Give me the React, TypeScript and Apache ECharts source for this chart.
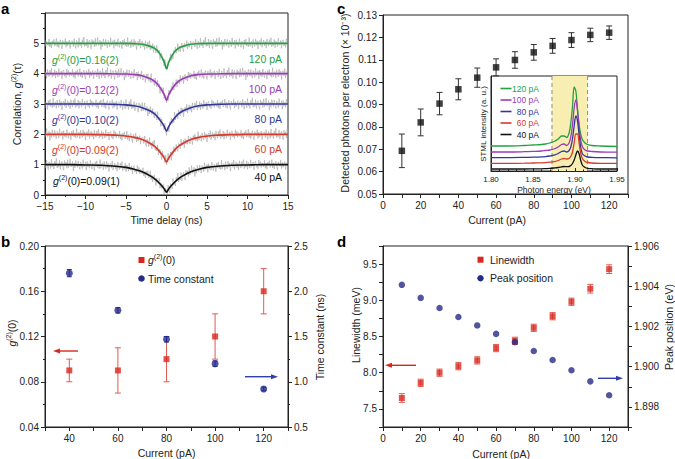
import React, { useEffect, useRef } from 'react';
import * as echarts from 'echarts';

const FONT = '"Liberation Sans", Arial, Helvetica, sans-serif';

// ---------- Panel a: g2(tau) ----------
const fitTimes = [0, 0.25, 0.5, 1, 1.5, 2, 3, 4, 5, 6, 8, 10, 12, 15];
const fit40 = [0.09, 0.19, 0.28, 0.42, 0.54, 0.63, 0.77, 0.85, 0.91, 0.94, 0.98, 0.99, 1.0, 1.0];
const fit60 = [0.09, 0.21, 0.31, 0.48, 0.61, 0.70, 0.83, 0.90, 0.94, 0.97, 0.99, 1.0, 1.0, 1.0];
const fit80 = [0.10, 0.24, 0.36, 0.54, 0.68, 0.77, 0.88, 0.94, 0.97, 0.985, 1.0, 1.0, 1.0, 1.0];
const fit100 = [0.12, 0.29, 0.42, 0.62, 0.75, 0.83, 0.93, 0.97, 0.99, 0.99, 1.0, 1.0, 1.0, 1.0];
const fit120 = [0.16, 0.36, 0.51, 0.72, 0.84, 0.90, 0.97, 0.99, 1.0, 1.0, 1.0, 1.0, 1.0, 1.0];
const fits = [fit40, fit60, fit80, fit100, fit120];
const traceOffsets = [0, 1, 2, 3, 4];
const traceCurrents = ['40 pA', '60 pA', '80 pA', '100 pA', '120 pA'];
const traceG0 = ['0.09(1)', '0.09(2)', '0.10(2)', '0.12(2)', '0.16(2)'];
const traceColors = ['#111111', '#d63a2c', '#33379a', '#9b3cb8', '#24a042'];
const noise = [6, -9, 13, -4, -14, 8, 2, -11, 15, -6, 3, -12, 10, -3, 17, -9, 1, -7, 12, -13, 4, 9, -5, -15, 11, -2, 7, -10, 14, -8, 0, 16, -6, -3, 9, -17, 5, -9, 12, 2, -7, 11, -4, -12, 8, 3, -10, 15, -5, -1, 8, -14, 10, -6, 4, -9, 13, -2, -11, 6, 1, -15, 9, -4, 12, -7, 3, -10, 16, -8, 2, 6, -12, 11, -3, -9, 12, -5, 7, -16, 4, 8, -6, 14, -11, 0, 9, -7, 5, -13, 12, -2, -8, 10, -4, 15, -10, 3, -6, 11, -12, 7, 1, -9, 14, -5, -3, 8, -14, 6, 10, -7, 2, -11, 13, -4, 9, -8, 5, -1, -6, 12, -10, 4, -13, 7, 0, 11, -8, -2, 14, -9, 5, -12, 3, 10, -6, -15, 8, 1, -4, 13, -11, 6, -7, 2, 9, -14, 4, 7];
const grayStep = 0.1;
const noiseScale = 0.012;

// ---------- Panel b ----------
const currentsB = [40, 60, 80, 100, 120];
const g2zero = [0.09, 0.09, 0.10, 0.12, 0.16];
const g2err = [0.01, 0.02, 0.02, 0.02, 0.02];
const timeConst = [2.2, 1.79, 1.47, 1.2, 0.92];
const timeErr = [0.04, 0.03, 0.03, 0.03, 0.02];

// ---------- Panel c ----------
const currentsC = [10, 20, 30, 40, 50, 60, 70, 80, 90, 100, 110, 120];
const photons = [0.0693, 0.082, 0.0904, 0.0968, 0.102, 0.1066, 0.1099, 0.1133, 0.1162, 0.1188, 0.1211, 0.1221];
const photonErr = [0.0075, 0.006, 0.005, 0.0047, 0.0043, 0.0038, 0.0037, 0.0035, 0.0033, 0.0033, 0.003, 0.003];

// inset spectra
const energies = [1.80, 1.82, 1.84, 1.85, 1.86, 1.865, 1.87, 1.875, 1.88, 1.884, 1.887, 1.890, 1.893, 1.895, 1.897, 1.899, 1.901, 1.903, 1.905, 1.907, 1.909, 1.912, 1.915, 1.92, 1.93, 1.95];
const spec120 = [25, 25, 25.5, 26, 26.5, 27, 28, 29.5, 32, 35, 35, 33.5, 38, 48, 64, 84, 80, 62, 46, 36, 31, 28, 26.5, 25.5, 25, 24.5];
const spec100 = [19, 19, 19.3, 19.6, 20, 20.5, 21, 22, 24, 26.5, 27, 25.5, 28, 34, 46, 63, 71, 60, 42, 30, 24, 21, 20, 19.5, 19, 18.8];
const spec80 = [13.4, 13.4, 13.6, 13.8, 14.1, 14.4, 15, 15.8, 17.5, 19.5, 20, 19, 20.5, 24, 32, 45, 55, 50, 35, 23, 17, 15, 14, 13.7, 13.4, 13.2];
const spec60 = [7.7, 7.7, 7.8, 8, 8.2, 8.4, 8.8, 9.3, 10.5, 12, 12.5, 12, 12.5, 14.5, 19, 28, 37, 37, 27, 17, 12, 9.5, 8.5, 8, 7.7, 7.6];
const spec40 = [2, 2, 2, 2.1, 2.2, 2.4, 2.6, 3, 3.5, 4.2, 4.5, 4.3, 4.5, 5.5, 7.5, 11, 16, 20, 17, 10, 5.5, 3.5, 2.6, 2.3, 2, 2];
const spectra = [spec120, spec100, spec80, spec60, spec40];
const spectraLabels = ['120 pA', '100 pA', '80 pA', '60 pA', '40 pA'];
const spectraColors = ['#24a042', '#9b3cb8', '#33379a', '#d63a2c', '#111111'];
const bandEdges = [1.8726, 1.915];

// ---------- Panel d ----------
const currentsD = [10, 20, 30, 40, 50, 60, 70, 80, 90, 100, 110, 120];
const linewidth = [7.65, 7.86, 8.0, 8.09, 8.17, 8.34, 8.44, 8.62, 8.78, 8.98, 9.16, 9.43];
const linewidthErr = [0.06, 0.05, 0.05, 0.05, 0.05, 0.05, 0.05, 0.05, 0.05, 0.05, 0.06, 0.06];
const peakPos = [1.90407, 1.90342, 1.90292, 1.90247, 1.90205, 1.90163, 1.90122, 1.90078, 1.90033, 1.89982, 1.89927, 1.89858];

const RED = '#d8281e';
const RED_ERR = '#e25a50';
const BLUE = '#262b8a';
const AX = '#222';

function fitAt(vals: number[], t: number) {
  const a = Math.abs(t);
  for (let i = 0; i < fitTimes.length - 1; i++) {
    if (a >= fitTimes[i] && a <= fitTimes[i + 1]) {
      const f = (a - fitTimes[i]) / (fitTimes[i + 1] - fitTimes[i]);
      return vals[i] + f * (vals[i + 1] - vals[i]);
    }
  }
  return vals[vals.length - 1];
}

function errBars(xi: number, yi: number, xs: number[], ys: number[], es: number[], color: string, cap: number) {
  return {
    type: 'custom',
    xAxisIndex: xi,
    yAxisIndex: yi,
    silent: true,
    z: 3,
    data: xs.map((x, i) => [x, ys[i] - es[i], ys[i] + es[i]]),
    renderItem: (_p: any, api: any) => {
      const x = api.value(0);
      const lo = api.coord([x, api.value(1)]);
      const hi = api.coord([x, api.value(2)]);
      const st = { stroke: color, lineWidth: 1 };
      return {
        type: 'group',
        children: [
          { type: 'line', shape: { x1: lo[0], y1: lo[1], x2: hi[0], y2: hi[1] }, style: st },
          { type: 'line', shape: { x1: lo[0] - cap, y1: lo[1], x2: lo[0] + cap, y2: lo[1] }, style: st },
          { type: 'line', shape: { x1: hi[0] - cap, y1: hi[1], x2: hi[0] + cap, y2: hi[1] }, style: st },
        ],
      };
    },
  };
}

function axis(extra: any) {
  return {
    type: 'value',
    axisLine: { show: true, onZero: false, lineStyle: { color: AX, width: 1 } },
    axisTick: { show: true, inside: false, length: 4, lineStyle: { color: AX } },
    axisLabel: { fontSize: 10, color: AX, fontFamily: FONT, margin: 5 },
    splitLine: { show: false },
    ...extra,
  };
}

function supRich(color: string, size: number) {
  return {
    i: { fontStyle: 'italic', fontSize: size, fontFamily: FONT, fill: color, lineHeight: size + 3 },
    s: { fontSize: Math.round(size * 0.68), fontFamily: FONT, fill: color, lineHeight: 6, verticalAlign: 'top' },
    n: { fontSize: size, fontFamily: FONT, fill: color, lineHeight: size + 3 },
  };
}

function supText(x: number, y: number, text: string, color: string, size: number, extra: any = {}) {
  return {
    type: 'text',
    x,
    y,
    ...extra,
    style: { text, rich: supRich(color, size), fill: color, align: 'left', verticalAlign: 'middle', ...(extra.style || {}) },
  };
}

function plainText(x: number, y: number, text: string, size: number, extra: any = {}, styleExtra: any = {}) {
  return {
    type: 'text',
    x,
    y,
    ...extra,
    style: { text, fontSize: size, fontFamily: FONT, fill: '#222', align: 'center', verticalAlign: 'middle', ...styleExtra },
  };
}

function arrow(x1: number, x2: number, y: number, color: string) {
  const dir = x2 > x1 ? 1 : -1;
  return {
    type: 'group',
    children: [
      { type: 'line', shape: { x1, y1: y, x2: x2 - dir * 5, y2: y }, style: { stroke: color, lineWidth: 1.4 } },
      { type: 'polygon', shape: { points: [[x2, y], [x2 - dir * 7, y - 2.5], [x2 - dir * 7, y + 2.5]] }, style: { fill: color } },
    ],
  };
}

export default function App() {
  const ref = useRef<HTMLDivElement>(null);
  useEffect(() => {
    if (!ref.current) return;
    const chart = echarts.init(ref.current, null, { renderer: 'svg' });

    const series: any[] = [];
    // panel a gray noisy traces
    const nGray = Math.round(30 / grayStep) + 1;
    fits.forEach((vals, k) => {
      const data: number[][] = [];
      for (let i = 0; i < nGray; i++) {
        const t = -15 + i * grayStep;
        data.push([t, traceOffsets[k] + fitAt(vals, t) + noise[(i + 29 * k) % noise.length] * noiseScale]);
      }
      series.push({
        type: 'line', xAxisIndex: 0, yAxisIndex: 0, data, showSymbol: false, silent: true,
        lineStyle: { color: '#a6a6a6', width: 0.6 }, z: 1,
      });
    });
    fits.forEach((vals, k) => {
      const times = [...fitTimes.slice(1).reverse().map((t) => -t), ...fitTimes];
      const ys = [...vals.slice(1).reverse(), ...vals];
      series.push({
        type: 'line', xAxisIndex: 0, yAxisIndex: 0, smooth: 0.3, showSymbol: false, silent: true,
        data: times.map((t, i) => [t, traceOffsets[k] + ys[i]]),
        lineStyle: { color: traceColors[k], width: 1.6 }, z: 2,
      });
    });

    // panel b
    series.push(errBars(1, 1, currentsB, g2zero, g2err, RED_ERR, 3));
    series.push({ type: 'scatter', xAxisIndex: 1, yAxisIndex: 1, symbol: 'rect', symbolSize: 6, data: currentsB.map((x, i) => [x, g2zero[i]]), itemStyle: { color: RED }, z: 4 });
    series.push(errBars(1, 2, currentsB, timeConst, timeErr, BLUE, 2.5));
    series.push({ type: 'scatter', xAxisIndex: 1, yAxisIndex: 2, symbol: 'circle', symbolSize: 7, data: currentsB.map((x, i) => [x, timeConst[i]]), itemStyle: { color: BLUE }, z: 4 });

    // panel c
    series.push(errBars(2, 3, currentsC, photons, photonErr, '#333', 3));
    series.push({ type: 'scatter', xAxisIndex: 2, yAxisIndex: 3, symbol: 'rect', symbolSize: 6.5, data: currentsC.map((x, i) => [x, photons[i]]), itemStyle: { color: '#111' }, z: 4 });

    // inset: yellow band + dashed edges
    series.push({
      type: 'custom', xAxisIndex: 4, yAxisIndex: 6, silent: true, z: 5,
      data: [[bandEdges[0], bandEdges[1]]],
      renderItem: (params: any, api: any) => {
        const a = api.coord([api.value(0), 0]);
        const b = api.coord([api.value(1), 0]);
        const cs = params.coordSys;
        const dash = { stroke: '#8a8a8a', lineWidth: 1, lineDash: [4, 3] };
        return {
          type: 'group',
          children: [
            { type: 'rect', shape: { x: a[0], y: cs.y, width: b[0] - a[0], height: cs.height }, style: { fill: '#f8eeb2' } },
            { type: 'line', shape: { x1: a[0], y1: cs.y, x2: a[0], y2: cs.y + cs.height }, style: dash },
            { type: 'line', shape: { x1: b[0], y1: cs.y, x2: b[0], y2: cs.y + cs.height }, style: dash },
          ],
        };
      },
    });
    spectra.forEach((vals, k) => {
      series.push({
        type: 'line', xAxisIndex: 4, yAxisIndex: 6, showSymbol: false, silent: true, smooth: 0.35,
        data: energies.map((e, i) => [e, vals[i]]),
        lineStyle: { color: spectraColors[k], width: 1.3 }, z: 6,
      });
    });

    // panel d
    series.push(errBars(3, 4, currentsD, linewidth, linewidthErr, RED_ERR, 3));
    series.push({ type: 'scatter', xAxisIndex: 3, yAxisIndex: 4, symbol: 'rect', symbolSize: 6, data: currentsD.map((x, i) => [x, linewidth[i]]), itemStyle: { color: RED }, z: 4 });
    series.push({ type: 'scatter', xAxisIndex: 3, yAxisIndex: 5, symbol: 'circle', symbolSize: 6.5, data: currentsD.map((x, i) => [x, peakPos[i]]), itemStyle: { color: BLUE }, z: 4 });

    const every20 = (v: number) => (Math.round(v) % 20 === 0 ? String(Math.round(v)) : '');
    const minorT = (n: number) => ({ show: true, splitNumber: n, length: 2, lineStyle: { color: AX } });

    const graphic: any[] = [
      // panel letters
      plainText(1, 8, 'a', 15, {}, { fontWeight: 'bold', align: 'left', fill: '#000' }),
      plainText(1, 241, 'b', 15, {}, { fontWeight: 'bold', align: 'left', fill: '#000' }),
      plainText(337, 8, 'c', 15, {}, { fontWeight: 'bold', align: 'left', fill: '#000' }),
      plainText(337, 241, 'd', 15, {}, { fontWeight: 'bold', align: 'left', fill: '#000' }),
      // panel a titles
      plainText(166.5, 220, 'Time delay (ns)', 10.5),
      { type: 'text', x: 17, y: 104, rotation: Math.PI / 2, style: { text: '{n|Correlation, }{i|g}{s|(2)}{n|(τ)}', rich: supRich('#222', 10.5), align: 'center', verticalAlign: 'middle' } },
      // panel b titles
      plainText(166.5, 453, 'Current (pA)', 10.5),
      { type: 'text', x: 12, y: 333, rotation: Math.PI / 2, style: { text: '{i|g}{s|(2)}{n|(0)}', rich: supRich('#222', 10.5), align: 'center', verticalAlign: 'middle' } },
      plainText(320, 337, 'Time constant (ns)', 10.5, { rotation: Math.PI / 2 }),
      // panel c titles
      plainText(497, 220, 'Current (pA)', 10.5),
      plainText(345, 103, 'Detected photons per electron (× 10⁻³)', 10.5, { rotation: Math.PI / 2 }),
      plainText(483, 124, 'STML intensity (a. u.)', 8, { rotation: Math.PI / 2 }),
      plainText(554, 189.5, 'Photon energy (eV)', 8.5),
      // panel d titles
      plainText(501, 454, 'Current (pA)', 10.5),
      plainText(356, 325, 'Linewidth (meV)', 10.5, { rotation: Math.PI / 2 }),
      plainText(669, 327, 'Peak position (eV)', 10.5, { rotation: Math.PI / 2 }),
      // legends b
      { type: 'rect', shape: { x: 138.5, y: 257, width: 6, height: 6 }, style: { fill: RED } },
      supText(148, 260, '{i|g}{s|(2)}{n|(0)}', '#222', 10.5),
      { type: 'circle', shape: { cx: 141.5, cy: 278.5, r: 3.3 }, style: { fill: BLUE } },
      plainText(148, 278.5, 'Time constant', 10.5, {}, { align: 'left' }),
      // legends d
      { type: 'rect', shape: { x: 477.5, y: 256.7, width: 6, height: 6 }, style: { fill: RED } },
      plainText(490, 259.7, 'Linewidth', 10.5, {}, { align: 'left' }),
      { type: 'circle', shape: { cx: 480.5, cy: 278.3, r: 3.2 }, style: { fill: BLUE } },
      plainText(490, 278.3, 'Peak position', 10.5, {}, { align: 'left' }),
      // arrows
      arrow(78, 53, 351, RED),
      arrow(245, 278, 376.7, '#3040a8'),
      arrow(416, 385, 365.3, RED),
      arrow(598, 623, 378.3, '#3040a8'),
    ];
    // panel a trace labels
    const labelY = [181, 150, 120, 90, 60];
    const currY = [177, 149, 119, 89, 59];
    traceColors.forEach((c, k) => {
      graphic.push(supText(k === 0 ? 53 : 52, labelY[k], `{i|g}{s|(2)}{n|(0)=${traceG0[k]}}`, c, 10.5));
      graphic.push(plainText(282, currY[k], traceCurrents[k], 10.5, {}, { align: 'right', fill: c }));
    });
    // inset legend
    const legY = [88.5, 100, 111.5, 123, 134.5];
    spectraColors.forEach((c, k) => {
      graphic.push({ type: 'line', shape: { x1: 500.5, y1: legY[k], x2: 511.5, y2: legY[k] }, style: { stroke: c, lineWidth: 1.6 }, z: 10 });
      graphic.push(plainText(539, legY[k], spectraLabels[k], 8.5, { z: 10 }, { align: 'right', fill: c }));
    });

    const option: any = {
      animation: false,
      backgroundColor: '#fff',
      textStyle: { fontFamily: FONT },
      grid: [
        { left: 45, top: 13, width: 243, height: 182, show: true, borderColor: AX, borderWidth: 1, backgroundColor: 'transparent' },
        { left: 45, top: 246, width: 243, height: 181, show: true, borderColor: AX, borderWidth: 1, backgroundColor: 'transparent' },
        { left: 383, top: 15, width: 245, height: 179, show: true, borderColor: AX, borderWidth: 1, backgroundColor: 'transparent' },
        { left: 383, top: 246, width: 245, height: 181, show: true, borderColor: AX, borderWidth: 1, backgroundColor: 'transparent' },
        { left: 491, top: 76, width: 126, height: 95, show: true, borderColor: AX, borderWidth: 1, backgroundColor: 'transparent' },
      ],
      xAxis: [
        axis({ gridIndex: 0, min: -15, max: 15, interval: 5, minorTick: minorT(2), axisLabel: { fontSize: 10, color: AX, fontFamily: FONT, margin: 6, formatter: (v: number) => (v < 0 ? '−' + Math.abs(v) : String(v)) } }),
        axis({ gridIndex: 1, min: 30, max: 130, interval: 10, axisLabel: { fontSize: 10, color: AX, fontFamily: FONT, margin: 6, formatter: every20 } }),
        axis({ gridIndex: 2, min: 0, max: 130, interval: 10, axisLabel: { fontSize: 10, color: AX, fontFamily: FONT, margin: 6, formatter: every20 } }),
        axis({ gridIndex: 3, min: 0, max: 130, interval: 10, axisLabel: { fontSize: 10, color: AX, fontFamily: FONT, margin: 6, formatter: every20 } }),
        axis({ gridIndex: 4, min: 1.8, max: 1.95, interval: 0.05, z: 7, axisTick: { show: true, inside: true, length: 3, lineStyle: { color: AX } }, minorTick: { show: true, splitNumber: 5, length: 1.5, lineStyle: { color: AX } }, axisLabel: { fontSize: 8, color: AX, fontFamily: FONT, margin: 4, formatter: (v: number) => v.toFixed(2) } }),
      ],
      yAxis: [
        axis({ gridIndex: 0, min: 0, max: 6, interval: 1, minorTick: minorT(2), axisLabel: { fontSize: 10, color: AX, fontFamily: FONT, margin: 6, formatter: (v: number) => (v > 5.5 ? '' : String(v)) } }),
        axis({ gridIndex: 1, min: 0.04, max: 0.2, interval: 0.04, minorTick: minorT(2), axisLabel: { fontSize: 10, color: AX, fontFamily: FONT, margin: 6, formatter: (v: number) => v.toFixed(2) } }),
        axis({ gridIndex: 1, position: 'right', min: 0.5, max: 2.5, interval: 0.5, minorTick: minorT(2), axisLabel: { fontSize: 10, color: AX, fontFamily: FONT, margin: 6, formatter: (v: number) => v.toFixed(1) } }),
        axis({ gridIndex: 2, min: 0.05, max: 0.13, interval: 0.01, axisLabel: { fontSize: 10, color: AX, fontFamily: FONT, margin: 6, formatter: (v: number) => v.toFixed(2) } }),
        axis({ gridIndex: 3, min: 7.25, max: 9.75, interval: 0.25, axisLabel: { fontSize: 10, color: AX, fontFamily: FONT, margin: 6, formatter: (v: number) => (Math.abs(v * 2 - Math.round(v * 2)) < 1e-6 ? v.toFixed(1) : '') } }),
        axis({ gridIndex: 3, position: 'right', min: 1.897, max: 1.906, interval: 0.001, axisLabel: { fontSize: 10, color: AX, fontFamily: FONT, margin: 6, formatter: (v: number) => (Math.round(v * 1000) % 2 === 0 ? v.toFixed(3) : '') } }),
        axis({ gridIndex: 4, min: 0, max: 95, axisLine: { show: true, lineStyle: { color: AX } }, axisTick: { show: false }, axisLabel: { show: false } }),
      ],
      series,
      graphic,
    };
    chart.setOption(option);
    return () => chart.dispose();
  }, []);
  return <div ref={ref} style={{ position: 'absolute', left: 0, top: 0, width: 675, height: 459, background: '#fff' }} />;
}
